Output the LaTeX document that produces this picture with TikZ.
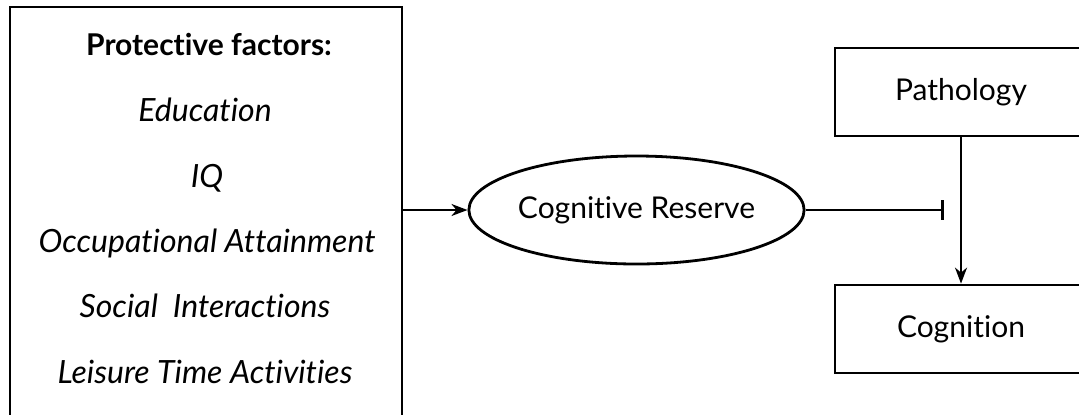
\documentclass[tikz,border=0pt]{standalone}
\usepackage{fontspec}
\setmainfont{Lato}[Ligatures=NoCommon]
\usetikzlibrary{shapes.geometric,arrows.meta}
\begin{document}
\begin{tikzpicture}[x=0.5pt,y=-0.5pt,
  every node/.style={font=\fontsize{15}{18}\selectfont},
  frame/.style={draw,line width=1.4pt,rectangle,inner sep=0pt},
  item/.style={anchor=base,inner sep=0pt,font=\fontsize{16}{19}\selectfont\itshape},
  conn/.style={line width=1.1pt,-{Stealth[length=8pt,width=6pt,inset=2.5pt]}}]
\useasboundingbox (0,0) rectangle (1079,414);
\clip (0,0) rectangle (1079,414);
% left box
\node[frame,minimum width=196pt,minimum height=211.5pt] (pf) at (206,218.5) {};
\node[anchor=base,inner sep=0pt,font=\fontsize{15}{18}\selectfont\bfseries] (t0) at (209,55) {Protective factors:};
\node[item] (t1) at (205,121) {Education};
\node[item] (t2) at (207,187) {IQ};
\node[item] (t3) at (207,252) {Occupational Attainment};
\node[item] (t4) at (205,317) {Social\ \ Interactions};
\node[item] (t5) at (205,383) {Leisure Time Activities};
% ellipse
\node[ellipse,draw,line width=1.4pt,minimum width=160.5pt,minimum height=54pt,inner sep=0pt] (cr) at (636.5,210) {Cognitive Reserve};
% right boxes
\node[frame,minimum width=126pt,minimum height=44pt] (pa) at (961,92) {Pathology};
\node[frame,minimum width=126pt,minimum height=44pt] (co) at (961,329) {Cognition};
\coordinate (bar) at (944,210);
\coordinate (pfe) at (402,210);
% connectors
\draw[conn] (pfe) -- (cr.west);
\draw[line width=1.1pt,-{Bar[width=10pt,line width=1.4pt]}] (cr.east) -- (bar);
\draw[conn] (pa.south) -- (co.north);
\end{tikzpicture}
\end{document}
